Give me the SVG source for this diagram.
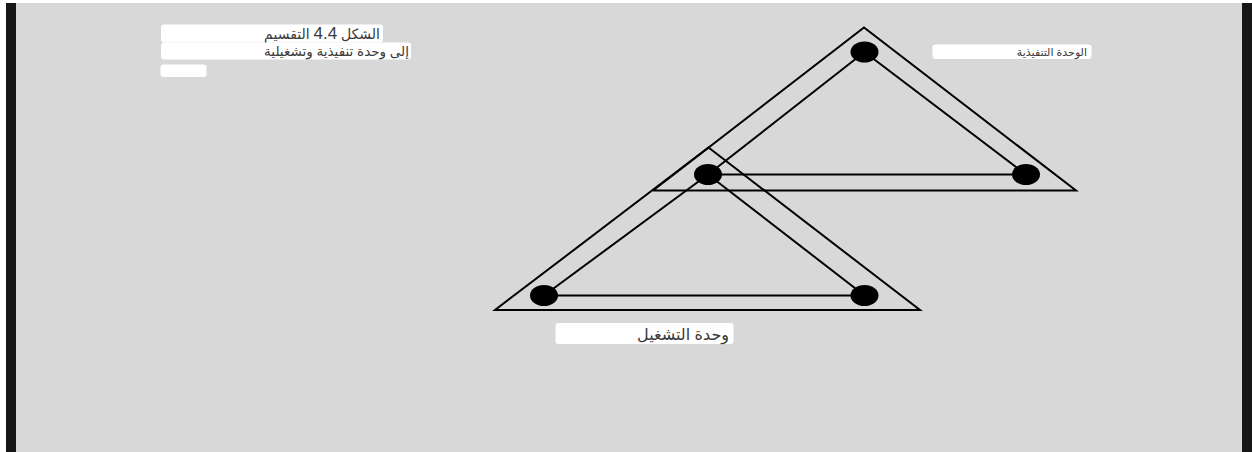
<svg xmlns="http://www.w3.org/2000/svg" width="1252" height="452" viewBox="0 0 1252 452">
  <style>
    .edge { fill: none; stroke: #000; stroke-width: 2; stroke-linejoin: miter; }
    .node { fill: #000; }
    .box { fill: #fff; }
    .lbl { font-family: "Liberation Sans", "DejaVu Sans", sans-serif; fill: #3a3a3a; }
  </style>
  <rect x="0" y="0" width="1252" height="452" fill="#ffffff"/>
  <rect x="16" y="3" width="1226" height="449" fill="#d8d8d8"/>
  <rect x="6" y="3" width="10" height="449" fill="#161616"/>
  <rect x="1242" y="3" width="10" height="449" fill="#161616"/>

  <g id="connectors">
    <polyline class="edge" points="653,190.5 864,27.5 1076,190.5 653,190.5"/>
    <polygon class="edge" points="708.5,147.5 920,310 495,310"/>
    <line class="edge" x1="864.5" y1="52" x2="708" y2="174.5"/>
    <line class="edge" x1="864.5" y1="52" x2="1026" y2="174.5"/>
    <line class="edge" x1="708" y1="174.5" x2="1026" y2="174.5"/>
    <line class="edge" x1="708" y1="174.5" x2="544" y2="295.5"/>
    <line class="edge" x1="708" y1="174.5" x2="864.5" y2="295.5"/>
    <line class="edge" x1="544" y1="295.5" x2="864.5" y2="295.5"/>
  </g>

  <g id="node-top"><ellipse class="node" cx="864.5" cy="52" rx="14" ry="10.5"/></g>
  <g id="node-mid"><ellipse class="node" cx="708" cy="174.5" rx="14" ry="10.5"/></g>
  <g id="node-right"><ellipse class="node" cx="1026" cy="174.5" rx="14" ry="10.5"/></g>
  <g id="node-bottom-left"><ellipse class="node" cx="544" cy="295.5" rx="14" ry="10.5"/></g>
  <g id="node-bottom-right"><ellipse class="node" cx="864.5" cy="295.5" rx="14" ry="10.5"/></g>

  <g id="title">
    <rect class="box" x="161" y="24.5" width="222" height="18" rx="3"/>
    <rect class="box" x="161" y="42.5" width="250" height="17" rx="3"/>
    <rect class="box" x="160.5" y="64.5" width="46" height="12.5" rx="3"/>
    <text class="lbl" x="380" y="38.5" direction="rtl" text-anchor="start" font-size="14">الشكل <tspan font-size="17">4.4</tspan> التقسيم</text>
    <text class="lbl" x="409" y="55.5" direction="rtl" text-anchor="start" font-size="13.5">إلى وحدة تنفيذية وتشغيلية</text>
  </g>

  <g id="label-exec">
    <rect class="box" x="932.5" y="44.5" width="159" height="14.5" rx="3"/>
    <text class="lbl" x="1087" y="55.5" direction="rtl" text-anchor="start" font-size="11">الوحدة التنفيذية</text>
  </g>

  <g id="label-oper">
    <rect class="box" x="555.5" y="323" width="178" height="21" rx="3"/>
    <text class="lbl" x="729" y="339.5" direction="rtl" text-anchor="start" font-size="16">وحدة التشغيل</text>
  </g>
</svg>
